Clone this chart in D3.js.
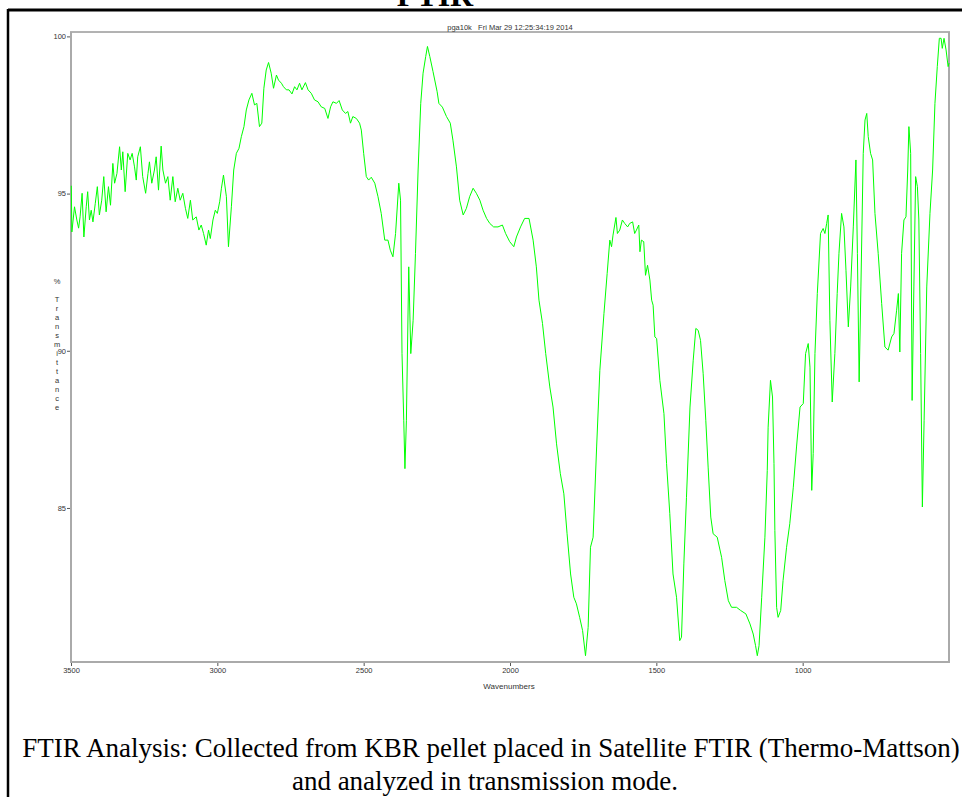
<!DOCTYPE html>
<html>
<head>
<meta charset="utf-8">
<script src="https://cdn.jsdelivr.net/npm/d3@7"></script>
<style>
  html, body { margin: 0; padding: 0; background: #fff; }
  svg { display: block; }
</style>
</head>
<body>
<script>
    // spectrum: wavenumber (cm-1) and % transmittance
    const wn = [
        3499,3497,3488,3480,3474,3469,3462,3456,3448,3443,3437,3431,3425,3417,3410,3403,3395,3388,3380,3372,
        3365,3357,3351,3343,3334,3328,3323,3315,3306,3298,3291,3283,3277,3272,3263,3255,3245,3237,3232,3224,
        3215,3209,3201,3192,3186,3177,3169,3161,3152,3144,3135,3127,3118,3109,3101,3092,3084,3072,3063,3055,
        3047,3038,3030,3024,3015,3007,3000,2992,2986,2979,2969,2962,2952,2944,2935,2926,2918,2909,2901,2892,
        2882,2873,2865,2856,2848,2841,2833,2825,2816,2808,2798,2791,2781,2774,2764,2755,2745,2736,2728,2719,
        2711,2699,2690,2679,2668,2656,2645,2633,2622,2613,2605,2593,2584,2573,2562,2554,2545,2537,2525,2514,
        2508,2500,2491,2483,2474,2462,2451,2440,2428,2417,2409,2400,2391,2380,2374,2369,2363,2359,2354,2346,
        2339,2331,2323,2314,2305,2297,2288,2282,2274,2263,2249,2243,2231,2217,2204,2195,2183,2172,2160,2149,
        2138,2126,2115,2103,2092,2080,2069,2056,2041,2026,2015,2001,1987,1978,1964,1950,1935,1921,1910,1901,
        1889,1878,1864,1853,1841,1828,1816,1805,1793,1782,1773,1762,1752,1742,1733,1725,1716,1704,1693,1679,
        1668,1659,1653,1648,1638,1633,1625,1616,1608,1598,1591,1581,1574,1568,1560,1556,1551,1543,1537,1530,
        1522,1516,1511,1505,1499,1488,1474,1465,1454,1443,1431,1420,1414,1406,1397,1385,1374,1365,1357,1349,
        1340,1331,1323,1314,1306,1292,1277,1266,1254,1243,1226,1212,1194,1180,1169,1161,1155,1149,1140,1129,
        1121,1118,1110,1103,1098,1095,1089,1084,1075,1067,1055,1044,1032,1021,1009,998,990,981,975,969,
        964,958,950,939,930,924,918,913,907,899,890,882,876,867,859,852,844,836,827,818,
        813,807,801,793,787,781,776,768,761,753,742,730,719,708,696,688,679,673,668,662,
        654,647,641,637,631,626,620,614,608,603,597,591,585,576,565,556,548,540,533,527,
        523,517,510,503,500
    ];
    const trans = [
        95.25,93.78,94.58,94.16,93.90,94.26,95.01,93.62,94.58,95.06,94.16,94.47,94.10,94.69,95.22,94.32,94.79,95.54,94.42,95.22,
        94.63,95.96,95.33,95.64,96.49,95.75,96.33,95.06,96.28,96.07,96.28,95.85,95.43,96.17,96.49,95.54,95.01,95.64,96.01,95.33,
        95.75,96.17,95.11,96.51,95.75,95.33,95.54,94.79,95.54,94.74,95.17,94.79,95.01,94.53,94.21,94.79,94.16,94.26,93.84,94.00,
        93.73,93.36,93.84,93.57,94.16,94.47,94.37,94.74,95.17,95.59,94.90,93.31,94.58,95.75,96.28,96.44,96.81,97.13,97.66,97.98,
        98.19,97.82,97.87,97.13,97.24,98.35,98.93,99.17,98.83,98.35,98.77,98.61,98.51,98.40,98.30,98.30,98.17,98.40,98.30,98.51,
        98.30,98.53,98.30,98.19,97.98,97.92,97.76,97.71,97.39,97.76,97.92,97.87,97.96,97.66,97.55,97.61,97.24,97.45,97.39,97.24,
        97.02,96.28,95.54,95.43,95.52,95.33,94.90,94.37,93.52,93.52,93.20,92.99,93.73,95.33,94.79,89.91,87.79,86.25,87.79,92.67,
        89.91,90.97,93.10,95.75,97.87,98.83,99.36,99.68,99.36,98.88,98.24,97.87,97.75,97.45,97.24,96.70,95.85,94.79,94.32,94.53,
        94.90,95.17,95.01,94.79,94.47,94.21,94.05,93.94,93.94,94.00,93.73,93.47,93.31,93.62,93.94,94.21,94.21,93.52,92.67,91.61,
        90.87,89.91,88.85,88.21,87.04,86.09,85.45,84.18,82.90,82.16,81.95,81.52,81.10,80.30,81.20,83.75,84.07,86.94,89.38,91.18,
        92.46,93.52,93.31,93.68,94.24,93.73,93.84,94.16,94.05,93.94,94.05,94.10,93.73,93.84,94.00,93.15,93.52,93.47,92.40,92.72,
        92.25,91.61,91.45,90.44,90.39,89.06,88.00,86.41,84.82,82.90,82.16,80.78,80.89,83.22,85.34,88.21,89.70,90.71,90.65,90.33,
        89.27,87.79,86.30,84.71,84.18,84.07,83.43,82.69,82.05,81.84,81.84,81.74,81.63,81.31,80.99,80.62,80.30,80.62,82.16,84.07,
        86.19,87.57,89.06,88.53,86.41,84.28,81.84,81.52,81.74,82.69,83.75,84.50,85.66,86.94,88.21,88.32,89.91,90.23,89.48,85.56,
        86.73,89.91,91.82,93.73,93.89,93.73,94.05,94.32,90.97,88.37,89.91,91.82,93.10,94.37,93.94,92.56,90.76,92.03,93.94,96.07,
        93.10,89.01,92.03,96.28,97.34,97.55,96.81,96.28,96.07,94.37,93.10,91.50,90.12,90.02,90.44,90.55,91.29,91.82,89.96,93.10,
        94.16,94.26,95.75,97.13,96.28,88.42,92.03,95.54,95.22,94.16,89.91,85.03,87.79,92.03,94.37,95.75,97.87,99.04,99.94,99.94,
        99.62,99.94,99.57,99.04,99.15
    ];
    const xTicks = [3500, 3000, 2500, 2000, 1500, 1000];
    const yTicks = [100, 95, 90, 85];
    const yTitle = "% Transmittance";

    const width = 967;
    const height = 797;
    const svg = d3.select("body").append("svg")
        .attr("width", width)
        .attr("height", height);

    // outer frame (only top and left edges are visible)
    svg.append("line")
        .attr("x1", 8).attr("y1", 10).attr("x2", 962).attr("y2", 10)
        .attr("stroke", "#000").attr("stroke-width", 3);
    svg.append("line")
        .attr("x1", 8).attr("y1", 9).attr("x2", 8).attr("y2", height)
        .attr("stroke", "#000").attr("stroke-width", 2.5);

    // page title, cut off at the top like the reference
    svg.append("text")
        .attr("x", 435).attr("y", 6)
        .attr("text-anchor", "middle")
        .attr("font-family", "Liberation Serif, Times New Roman, serif")
        .attr("font-weight", "bold")
        .attr("font-size", 32)
        .text("FTIR");

    const pLeft = 71, pRight = 949, pTop = 32, pBottom = 662;

    const x = d3.scaleLinear()
        .domain([3500, 500])
        .range([pLeft, pRight]);
    const y = d3.scaleLinear()
        .domain([80.1, 100.14])
        .range([pBottom, pTop]);

    const small = "Liberation Sans, Arial, sans-serif";

    // instrument header
    svg.append("text")
        .attr("x", 510).attr("y", 29.5)
        .attr("text-anchor", "middle")
        .attr("font-family", small)
        .attr("font-size", 7.5)
        .attr("fill", "#333")
        .attr("xml:space", "preserve")
        .text("pga10k   Fri Mar 29 12:25:34:19 2014");

    // plot box
    svg.append("line")
        .attr("x1", pLeft - 1).attr("y1", pTop).attr("x2", pRight + 1).attr("y2", pTop)
        .attr("stroke", "#666").attr("stroke-width", 1);
    svg.append("path")
        .attr("d", `M${pLeft},${pTop}V${pBottom}H${pRight}V${pTop}`)
        .attr("fill", "none")
        .attr("stroke", "#aaa")
        .attr("stroke-width", 2);

    // axes
    const xAxis = svg.append("g")
        .attr("transform", `translate(0,${pBottom + 1})`)
        .call(d3.axisBottom(x).tickValues(xTicks).tickSize(3).tickPadding(2).tickFormat(d3.format("d")));
    const yAxis = svg.append("g")
        .attr("transform", `translate(${pLeft - 1},0)`)
        .call(d3.axisLeft(y).tickValues(yTicks).tickSize(3).tickPadding(1).tickFormat(d3.format("d")));
    [xAxis, yAxis].forEach(a => {
        a.select(".domain").remove();
        a.selectAll(".tick line").attr("stroke", "#555");
        a.selectAll(".tick text")
            .attr("font-family", small)
            .attr("font-size", 7.5)
            .attr("fill", "#333");
    });

    svg.append("text")
        .attr("x", 509).attr("y", 688.5)
        .attr("text-anchor", "middle")
        .attr("font-family", small)
        .attr("font-size", 8)
        .attr("fill", "#333")
        .text("Wavenumbers");

    // y title, letters stacked upright
    svg.append("g")
        .selectAll("text")
        .data(yTitle.split(""))
        .join("text")
        .attr("x", 57)
        .attr("y", (d, i) => 283.5 + i * 9)
        .attr("text-anchor", "middle")
        .attr("font-family", small)
        .attr("font-size", 7.5)
        .attr("fill", "#333")
        .text(d => d);

    // spectrum
    const points = wn.map((w, i) => [w, trans[i]]);
    svg.append("path")
        .datum(points)
        .attr("fill", "none")
        .attr("stroke", "#00ff00")
        .attr("stroke-width", 1)
        .attr("stroke-linejoin", "round")
        .attr("d", d3.line().x(d => x(d[0])).y(d => y(d[1])));

    // caption
    const serif = "Liberation Serif, Times New Roman, serif";
    svg.append("text")
        .attr("x", 491).attr("y", 757)
        .attr("text-anchor", "middle")
        .attr("font-family", serif)
        .attr("font-size", 27)
        .text("FTIR Analysis: Collected from KBR pellet placed in Satellite FTIR (Thermo-Mattson)");
    svg.append("text")
        .attr("x", 485).attr("y", 790)
        .attr("text-anchor", "middle")
        .attr("font-family", serif)
        .attr("font-size", 27)
        .text("and analyzed in transmission mode.");
</script>
</body>
</html>
